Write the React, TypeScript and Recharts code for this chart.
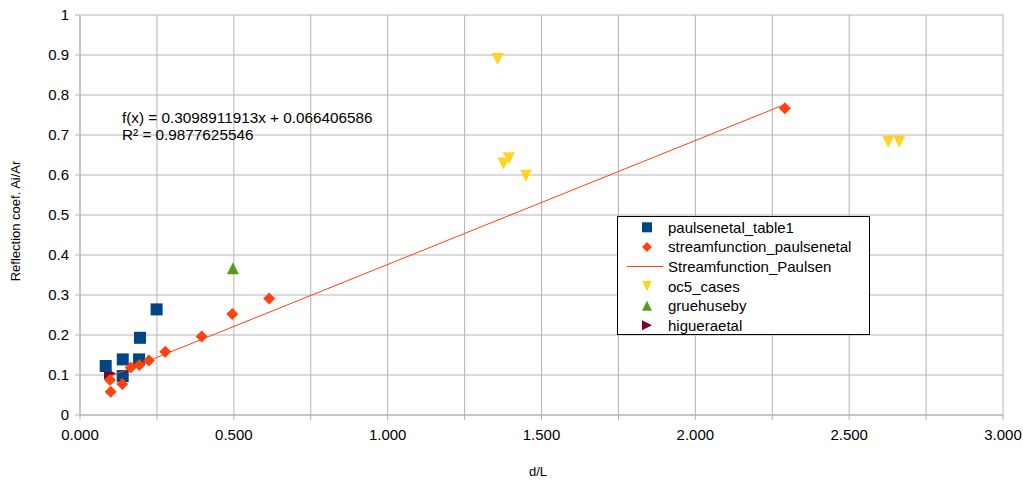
import { ScatterChart, Scatter, XAxis, YAxis, CartesianGrid } from "recharts";

const FONT = '"Liberation Sans", Arial, sans-serif';

// paulsenetal_table1
const paulsenX = [0.0835, 0.139, 0.1388, 0.195, 0.192, 0.249];
const paulsenY = [0.1225, 0.139, 0.0975, 0.193, 0.139, 0.264];

// streamfunction_paulsenetal
const streamX = [0.0998, 0.0975, 0.1375, 0.165, 0.193, 0.224, 0.277, 0.3955, 0.495, 0.615, 2.291];
const streamY = [0.058, 0.0875, 0.0775, 0.119, 0.125, 0.136, 0.158, 0.196, 0.2525, 0.291, 0.767];

// linear trend of the stream series
const trendSlope = 0.3098911913;
const trendIntercept = 0.066406586;
const trendR2 = 0.9877625546;

// oc5_cases
const oc5X = [1.3575, 1.394, 1.376, 1.4496, 2.627, 2.663];
const oc5Y = [0.89, 0.642, 0.629, 0.598, 0.683, 0.683];

// gruehuseby
const grueX = [0.497];
const grueY = [0.367];

// higueraetal
const higueraX = [0.0975];
const higueraY = [0.104];

const xTicks = [0, 0.25, 0.5, 0.75, 1, 1.25, 1.5, 1.75, 2, 2.25, 2.5, 2.75, 3];
const yTicks = [0, 0.1, 0.2, 0.3, 0.4, 0.5, 0.6, 0.7, 0.8, 0.9, 1];

const COLORS = {
  paulsen: "#004586",
  stream: "#ff420e",
  oc5: "#ffd320",
  grue: "#579d1c",
  higuera: "#7e0021",
};

const pts = (xs: number[], ys: number[]) => xs.map((x, i) => ({ x, y: ys[i] }));

const trendXs = [Math.min(...streamX), Math.max(...streamX)];
const trendData = trendXs.map((x) => ({ x, y: trendSlope * x + trendIntercept }));

const square = (c: string, s = 6) => (p: any) => (
  <rect x={p.cx - s} y={p.cy - s} width={s * 2} height={s * 2} fill={c} />
);
const diamond = (c: string, s = 6) => (p: any) => (
  <polygon
    points={`${p.cx},${p.cy - s} ${p.cx + s},${p.cy} ${p.cx},${p.cy + s} ${p.cx - s},${p.cy}`}
    fill={c}
  />
);
const triDown = (c: string, s = 6) => (p: any) => (
  <polygon
    points={`${p.cx - s},${p.cy - s} ${p.cx + s},${p.cy - s} ${p.cx},${p.cy + s}`}
    fill={c}
  />
);
const triUp = (c: string, s = 6) => (p: any) => (
  <polygon
    points={`${p.cx - s},${p.cy + s} ${p.cx + s},${p.cy + s} ${p.cx},${p.cy - s}`}
    fill={c}
  />
);
const triRight = (c: string, s = 6) => (p: any) => (
  <polygon
    points={`${p.cx - s},${p.cy - s} ${p.cx + s},${p.cy} ${p.cx - s},${p.cy + s}`}
    fill={c}
  />
);

const legendRows = [
  { name: "paulsenetal_table1", icon: square(COLORS.paulsen, 5) },
  { name: "streamfunction_paulsenetal", icon: diamond(COLORS.stream, 5) },
  { name: "Streamfunction_Paulsen", icon: null },
  { name: "oc5_cases", icon: triDown(COLORS.oc5, 5) },
  { name: "gruehuseby", icon: triUp(COLORS.grue, 5) },
  { name: "higueraetal", icon: triRight(COLORS.higuera, 5) },
];

export default function App() {
  return (
    <div style={{ position: "absolute", left: 0, top: 0, width: 1023, height: 481, background: "#fff" }}>
      <ScatterChart
        width={1023}
        height={481}
        margin={{ top: 15, right: 20, bottom: 36, left: 0 }}
        style={{ fontFamily: FONT }}
      >
        <CartesianGrid stroke="#b3b3b3" />
        <XAxis
          type="number"
          dataKey="x"
          domain={[0, 3]}
          ticks={xTicks}
          interval={0}
          height={30}
          tickSize={5}
          tickMargin={9}
          stroke="#b3b3b3"
          tick={{ fill: "#000", fontSize: 15 }}
          tickFormatter={(v: number) => (Math.abs(v * 2 - Math.round(v * 2)) < 1e-9 ? v.toFixed(3) : "")}
        />
        <YAxis
          type="number"
          dataKey="y"
          domain={[0, 1]}
          ticks={yTicks}
          interval={0}
          width={80}
          tickSize={5}
          tickMargin={6}
          stroke="#b3b3b3"
          tick={{ fill: "#000", fontSize: 15 }}
          tickFormatter={(v: number) => String(v)}
        />
        <Scatter data={pts(higueraX, higueraY)} shape={triRight(COLORS.higuera)} isAnimationActive={false} />
        <Scatter data={pts(paulsenX, paulsenY)} shape={square(COLORS.paulsen)} isAnimationActive={false} />
        <Scatter data={pts(streamX, streamY)} shape={diamond(COLORS.stream)} isAnimationActive={false} />
        <Scatter
          data={trendData}
          line={{ stroke: COLORS.stream, strokeWidth: 1 }}
          shape={() => <g />}
          isAnimationActive={false}
        />
        <Scatter data={pts(oc5X, oc5Y)} shape={triDown(COLORS.oc5)} isAnimationActive={false} />
        <Scatter data={pts(grueX, grueY)} shape={triUp(COLORS.grue)} isAnimationActive={false} />
      </ScatterChart>
      <svg
        width={1023}
        height={481}
        style={{ position: "absolute", left: 0, top: 0, pointerEvents: "none", fontFamily: FONT }}
      >
        <text x={122} y={123} fontSize={15.3} fill="#000">
          {`f(x) = ${trendSlope}x + ${trendIntercept}`}
        </text>
        <text x={122} y={140} fontSize={15.3} fill="#000">
          {`R² = ${trendR2}`}
        </text>
        <text transform="translate(20,221) rotate(-90)" textAnchor="middle" fontSize={13} fill="#000">
          Reflection coef. Ai/Ar
        </text>
        <text x={538} y={476} textAnchor="middle" fontSize={13} fill="#000">
          d/L
        </text>
        <rect x={617.5} y={216.5} width={252} height={118} fill="#fff" stroke="#000" />
        {legendRows.map((r, i) => {
          const cy = 227.3 + i * 19.6;
          return (
            <g key={r.name}>
              {r.icon ? (
                r.icon({ cx: 647, cy })
              ) : (
                <line x1={627} x2={663} y1={cy} y2={cy} stroke={COLORS.stream} strokeWidth={1} />
              )}
              <text x={668} y={cy + 5.5} fontSize={15} fill="#000">
                {r.name}
              </text>
            </g>
          );
        })}
      </svg>
    </div>
  );
}
